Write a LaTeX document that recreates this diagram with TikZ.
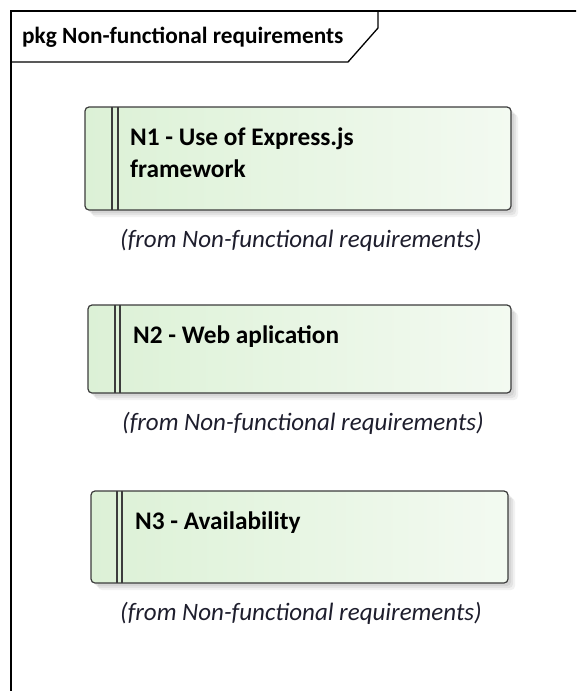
\documentclass[tikz,border=0pt]{standalone}
\usepackage{fontspec}
\setmainfont{Carlito}
\definecolor{reqleft}{RGB}{220,241,214}
\definecolor{reqright}{RGB}{243,250,241}
\definecolor{reqedge}{RGB}{60,60,60}
\definecolor{captext}{RGB}{30,30,45}
\tikzset{
  framebox/.style={line width=1.3pt, draw=black},
  reqbox/.style={draw=reqedge, line width=1.2pt, rounded corners=4pt,
    left color=reqleft, right color=reqright, anchor=north west,
    inner sep=0pt, outer sep=0pt},
  reqshadow/.style={fill=black, rounded corners=4pt},
  stripe/.style={draw=reqedge, line width=1.1pt},
  reqtitle/.style={font=\fontsize{25.3}{32}\selectfont\bfseries, anchor=base west,
    inner sep=0pt, text=black},
  fromnote/.style={font=\fontsize{25}{30}\selectfont\itshape, text=captext,
    anchor=base west, inner sep=0pt},
}
\begin{document}
\begin{tikzpicture}[x=1pt,y=-1pt]
\useasboundingbox (0,0) rectangle (576,691);
\fill[white] (0,0) rectangle (576,691);
\begin{scope}
\clip (0,0) rectangle (576,691);
% package frame and its name tab
\coordinate (fbl) at (11,700);
\coordinate (ftl) at (11,11);
\coordinate (ftr) at (590,11);
\draw[framebox] (fbl) -- (ftl) -- (ftr);
\coordinate (tabl) at (11,62);
\coordinate (tabs) at (348,62);
\coordinate (tabk) at (378,28);
\coordinate (tabt) at (378,11);
\draw[framebox] (tabl) -- (tabs) -- (tabk) -- (tabt);
\end{scope}
\node[font=\fontsize{23.3}{28}\selectfont\bfseries, anchor=base west, inner sep=0pt] (pkgname) at (22,43) {pkg Non-functional requirements};

% requirement N1
\foreach \dx/\op in {3/0.06,5/0.06,7/0.05} {
  \fill[reqshadow, opacity=\op] (85+\dx,107+\dx) rectangle (511+\dx,210+\dx);
}
\node[reqbox, minimum width=426pt, minimum height=103pt] (r1) at (85,107) {};
\draw[stripe] ([xshift=27pt]r1.north west) -- ([xshift=27pt]r1.south west);
\draw[stripe] ([xshift=33pt]r1.north west) -- ([xshift=33pt]r1.south west);
\node[reqtitle] (r1t) at (130,145) {N1 - Use of Express.js};
\node[reqtitle] (r1u) at (130,177) {framework};
\node[fromnote] (r1n) at (120,247) {(from Non-functional requirements)};

% requirement N2
\foreach \dx/\op in {3/0.06,5/0.06,7/0.05} {
  \fill[reqshadow, opacity=\op] (88+\dx,305+\dx) rectangle (511+\dx,393+\dx);
}
\node[reqbox, minimum width=423pt, minimum height=88pt] (r2) at (88,305) {};
\draw[stripe] ([xshift=27pt]r2.north west) -- ([xshift=27pt]r2.south west);
\draw[stripe] ([xshift=32pt]r2.north west) -- ([xshift=32pt]r2.south west);
\node[reqtitle] (r2t) at (133,343) {N2 - Web aplication};
\node[fromnote] (r2n) at (122,430) {(from Non-functional requirements)};

% requirement N3
\foreach \dx/\op in {3/0.06,5/0.06,7/0.05} {
  \fill[reqshadow, opacity=\op] (91+\dx,491+\dx) rectangle (508+\dx,583+\dx);
}
\node[reqbox, minimum width=417pt, minimum height=92pt] (r3) at (91,491) {};
\draw[stripe] ([xshift=26pt]r3.north west) -- ([xshift=26pt]r3.south west);
\draw[stripe] ([xshift=31pt]r3.north west) -- ([xshift=31pt]r3.south west);
\node[reqtitle] (r3t) at (135,529) {N3 - Availability};
\node[fromnote] (r3n) at (120,620) {(from Non-functional requirements)};
\end{tikzpicture}
\end{document}
